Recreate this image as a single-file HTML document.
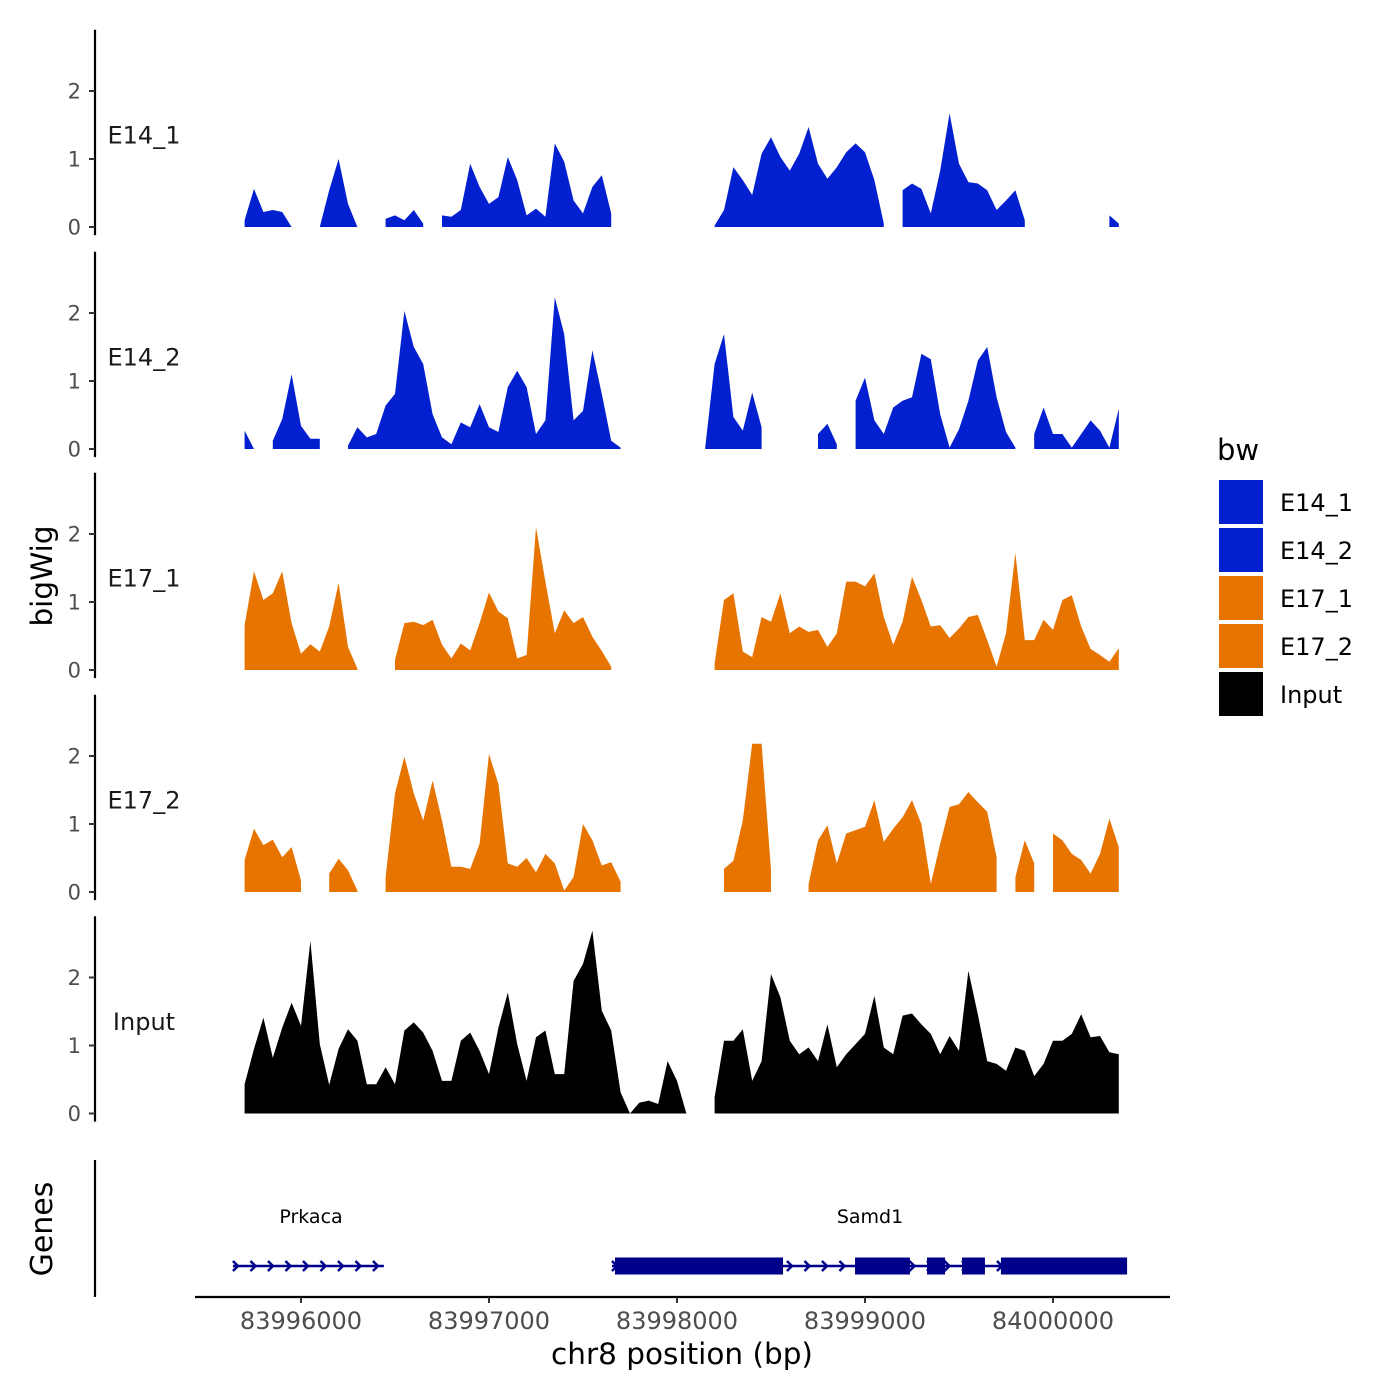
<!DOCTYPE html>
<html><head><meta charset="utf-8"><style>
body{margin:0;background:#fff;}
svg{display:block;font-family:"DejaVu Sans","Liberation Sans",sans-serif;}
</style></head><body>
<svg id="chart" width="1400" height="1400" viewBox="0 0 1400 1400" xmlns="http://www.w3.org/2000/svg">
<rect width="1400" height="1400" fill="#fff"/>
<g id="tracks"></g>
<g id="genes"></g>
<g id="xaxis"></g>
<text transform="translate(52,576) rotate(-90)" text-anchor="middle" font-size="29.5">bigWig</text>
<text transform="translate(52,1229) rotate(-90)" text-anchor="middle" font-size="30">Genes</text>
<text x="682" y="1364" text-anchor="middle" font-size="29.5">chr8 position (bp)</text>
<g id="legend">
<text x="1217" y="460" font-size="29">bw</text>
</g>
</svg>
<script>
const trackNames = ["E14_1","E14_2","E17_1","E17_2","Input"];
const trackColors = ["#0320d0","#0320d0","#e87400","#e87400","#000000"];
const binStart = 83995700;
const binStep = 50;
const e14_1 = [0.1,0.56,0.22,0.25,0.22,0,null,null,0,0.54,1.0,0.34,0,null,null,0.12,0.17,0.1,0.25,0.05,null,0.17,0.15,0.25,0.93,0.59,0.34,0.44,1.03,0.69,0.17,0.27,0.15,1.23,0.96,0.39,0.2,0.59,0.76,0.2,null,null,null,null,null,null,null,null,null,null,0.02,0.25,0.88,0.69,0.47,1.08,1.32,1.03,0.83,1.08,1.47,0.93,0.71,0.88,1.1,1.23,1.1,0.69,0.05,null,0.54,0.64,0.56,0.2,0.83,1.67,0.93,0.66,0.64,0.54,0.25,0.39,0.54,0.1,null,null,null,null,null,null,null,null,0.17,0.05];
const e14_2 = [0.27,0,null,0.12,0.44,1.1,0.34,0.15,0.15,null,null,0.05,0.32,0.17,0.22,0.64,0.81,2.03,1.5,1.25,0.51,0.17,0.07,0.39,0.32,0.66,0.32,0.25,0.91,1.15,0.91,0.22,0.42,2.23,1.69,0.42,0.56,1.45,0.81,0.12,0.02,null,null,null,null,null,null,null,null,0.02,1.25,1.69,0.47,0.27,0.83,0.32,null,null,0.1,null,null,0.22,0.37,0.07,null,0.71,1.05,0.42,0.22,0.61,0.71,0.76,1.4,1.32,0.51,0.02,0.29,0.71,1.3,1.5,0.76,0.25,0.02,null,0.22,0.61,0.22,0.22,0.02,0.22,0.42,0.27,0.02,0.59];
const e17_1 = [0.66,1.45,1.03,1.13,1.45,0.69,0.24,0.38,0.27,0.64,1.28,0.34,0.02,null,null,null,0.15,0.69,0.71,0.66,0.74,0.37,0.17,0.39,0.29,0.69,1.14,0.86,0.76,0.17,0.22,2.1,1.3,0.54,0.88,0.69,0.78,0.49,0.28,0.05,null,null,null,null,null,null,null,null,null,null,0.1,1.03,1.13,0.27,0.19,0.78,0.71,1.13,0.54,0.64,0.56,0.59,0.34,0.54,1.3,1.3,1.23,1.42,0.78,0.37,0.71,1.37,1.03,0.64,0.66,0.47,0.61,0.78,0.81,0.44,0.05,0.54,1.72,0.44,0.44,0.74,0.59,1.03,1.1,0.64,0.31,0.22,0.12,0.32];
const e17_2 = [0.47,0.93,0.69,0.77,0.51,0.66,0.17,null,null,0.27,0.49,0.32,0.02,null,null,0.22,1.45,1.99,1.45,1.05,1.64,1.05,0.37,0.37,0.34,0.71,2.03,1.59,0.42,0.37,0.5,0.29,0.56,0.42,0.02,0.22,1.0,0.76,0.39,0.44,0.15,null,null,null,null,null,null,null,null,null,null,0.34,0.46,1.05,2.18,2.18,0.32,null,null,null,0.12,0.76,0.98,0.42,0.86,0.91,0.96,1.35,0.74,0.93,1.1,1.35,1.0,0.12,0.71,1.25,1.29,1.47,1.32,1.18,0.51,null,0.22,0.76,0.42,null,0.86,0.76,0.56,0.47,0.27,0.56,1.08,0.66];
const input = [0.43,0.95,1.41,0.82,1.26,1.63,1.29,2.54,1.02,0.42,0.95,1.24,1.07,0.43,0.43,0.68,0.43,1.22,1.34,1.19,0.92,0.48,0.48,1.07,1.19,0.92,0.58,1.26,1.78,1.02,0.48,1.12,1.22,0.58,0.58,1.95,2.2,2.69,1.51,1.22,0.31,0,0.16,0.19,0.14,0.77,0.48,0,null,null,0.24,1.07,1.07,1.24,0.48,0.77,2.05,1.71,1.07,0.87,0.97,0.77,1.31,0.68,0.87,1.02,1.17,1.73,0.97,0.87,1.44,1.47,1.31,1.17,0.87,1.14,0.92,2.1,1.46,0.77,0.73,0.63,0.97,0.92,0.55,0.73,1.07,1.07,1.17,1.46,1.12,1.14,0.9,0.87];
const trackValues = [e14_1,e14_2,e17_1,e17_2,input];
const yTicks = [0,1,2];
const xTicks = [83996000,83997000,83998000,83999000,84000000];
const xTickLabels = ["83996000","83997000","83998000","83999000","84000000"];
const geneNames = ["Prkaca","Samd1"];
const geneStarts = [83995638,83997654];
const geneEnds = [83996441,84000394];
const samd1Exons = [[83997670,83998564],[83998947,83999239],[83999330,83999426],[83999516,83999638],[83999723,84000394]];

const NS="http://www.w3.org/2000/svg";
function mk(tag,attrs,parent){const e=document.createElementNS(NS,tag);for(const k in attrs)e.setAttribute(k,attrs[k]);parent.appendChild(e);return e;}
function xs(bp){return 301+(bp-83996000)*0.188;}
const trackZero=[227,449,670,892,1113.5];
const unit=68;

const tg=document.getElementById('tracks');
trackNames.forEach((name,t)=>{
  const z=trackZero[t]; const ys=v=>z-v*unit;
  const g=mk('g',{},tg);
  
  
  const ax=mk('line',{x1:95,x2:95,y1:ys(2.9),y2:ys(-0.12),stroke:'#000','stroke-width':2.2},g);
  
  
  yTicks.forEach(v=>{
    const tk=mk('line',{x1:89,x2:95,y1:ys(v),y2:ys(v),stroke:'#333','stroke-width':2},g);
    
    
    const tl=mk('text',{x:81,y:ys(v)+7.5,'text-anchor':'end','font-size':21,fill:'#4d4d4d'},g);
    tl.textContent=String(v);
    
    
  });
  const lab=mk('text',{x:144,y:ys(1.35)+8.5,'text-anchor':'middle','font-size':24,fill:'#1a1a1a'},g);
  lab.textContent=name;
  
  
  const vals=trackValues[t];
  let seg=[];
  const flush=()=>{
    if(seg.length){
      let d='M'+seg[0][0]+','+z;
      seg.forEach(p=>{d+=' L'+p[0].toFixed(1)+','+p[1].toFixed(1);});
      d+=' L'+seg[seg.length-1][0].toFixed(1)+','+z+' Z';
      const p=mk('path',{d:d,fill:trackColors[t]},g);
      
      
    }
    seg=[];
  };
  vals.forEach((v,i)=>{
    if(v===null){flush();return;}
    seg.push([xs(binStart+binStep*i),ys(v)]);
  });
  flush();
});

const gg=document.getElementById('genes');
const gax=mk('line',{x1:95,x2:95,y1:1160,y2:1297,stroke:'#000','stroke-width':2.2},gg);


const gy=1266, navy='#00008b';
geneNames.forEach((n,k)=>{
  const x1=xs(geneStarts[k]),x2=xs(geneEnds[k]);
  const gl=mk('line',{x1:x1,x2:x2,y1:gy,y2:gy,stroke:navy,'stroke-width':2.5},gg);
  
  
  const t=mk('text',{x:(k===0?311:870),y:1223,'text-anchor':'middle','font-size':19,fill:'#000'},gg);
  t.textContent=n;
  
  
  for(let x=x1+3;x<x2-2;x+=17.5){
    const c=mk('path',{d:`M${x-3},${gy-5} L${x+2},${gy} L${x-3},${gy+5}`,stroke:navy,'stroke-width':2.5,fill:'none'},gg);
    
    
  }
});
samd1Exons.forEach(e=>{
  const r=mk('rect',{x:xs(e[0]),y:gy-8.5,width:xs(e[1])-xs(e[0]),height:17,fill:navy},gg);
  
  
});

const xg=document.getElementById('xaxis');
mk('line',{x1:195,x2:1170,y1:1297,y2:1297,stroke:'#000','stroke-width':2.2},xg);
xTicks.forEach((b,i)=>{
  const tk=mk('line',{x1:xs(b),x2:xs(b),y1:1297,y2:1303,stroke:'#333','stroke-width':2},xg);
  
  
  const tl=mk('text',{x:xs(b),y:1329,'text-anchor':'middle','font-size':24,fill:'#4d4d4d'},xg);
  tl.textContent=xTickLabels[i];
  
  
});

const lg=document.getElementById('legend');
trackNames.forEach((n,i)=>{
  const y=480+48*i;
  const r=mk('rect',{x:1219,y:y,width:44,height:44,fill:trackColors[i]},lg);
  
  
  const t=mk('text',{x:1280,y:y+31,'font-size':24,fill:'#000'},lg);
  t.textContent=n;
  
  
});
</script>
</body></html>
